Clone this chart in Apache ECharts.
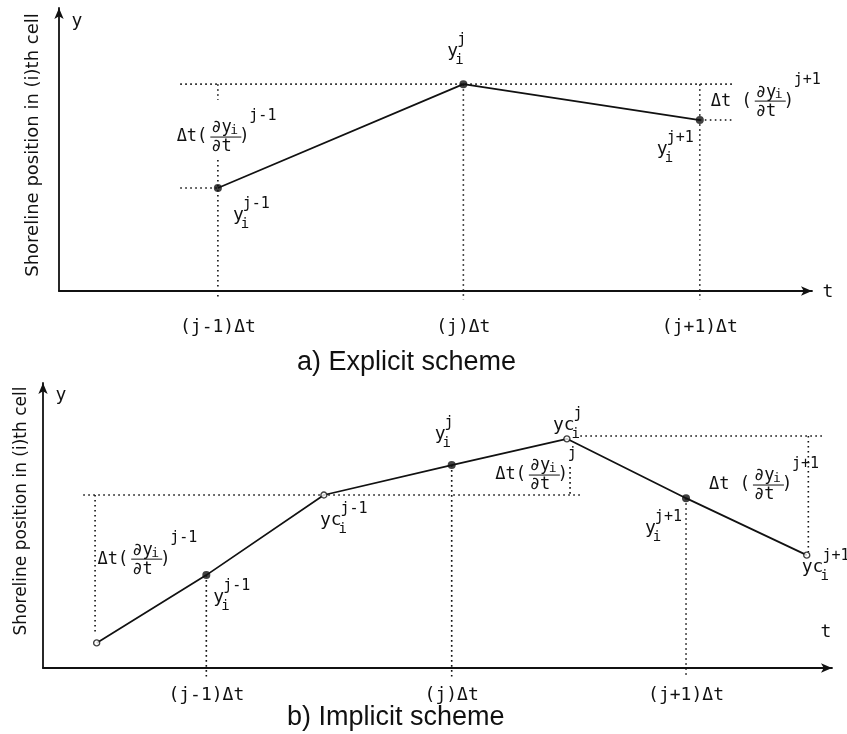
<!DOCTYPE html>
<html><head><meta charset="utf-8">
<script src="https://cdn.jsdelivr.net/npm/echarts@6/dist/echarts.min.js"></script>
<style>html,body{margin:0;padding:0;background:#fff}#c{width:847px;height:734px}</style>
</head><body><div id="c"></div>
<script>
// ---------- data (axis units: 0-100 of each axis length) ----------
const tickLabels = ['(j-1)Δt', '(j)Δt', '(j+1)Δt'];
const supLabels = ['j-1', 'j', 'j+1'];

// a) explicit scheme: shoreline position y_i at the three time levels
const tExp = [21.1, 53.7, 85.1];
const yExp = [36.4, 73.1, 60.4];

// b) implicit scheme: y_i at time levels and corrected positions yc_i
const tImp = [20.7, 51.8, 81.5];
const yImp = [32.6, 71.2, 59.6];
const tImpC = [6.8, 35.6, 66.4, 96.8];
const yImpC = [8.8, 60.7, 80.4, 39.6];

// dotted construction lines [t1, y1, t2, y2]
const guidesExp = [
  [16.1, yExp[1], 89.5, yExp[1]],
  [16.1, yExp[0], tExp[0], yExp[0]],
  [tExp[2], yExp[2], 89.5, yExp[2]],
  [tExp[0], yExp[1], tExp[0], 67.5],
  [tExp[0], 46.3, tExp[0], -3],
  [tExp[1], yExp[1], tExp[1], -3],
  [tExp[2], yExp[1], tExp[2], -3]
];
const guidesImp = [
  [5.1, yImpC[1], 68.1, yImpC[1]],
  [6.6, yImpC[1], 6.6, 12.3],
  [66.8, 70.5, 66.8, yImpC[1]],
  [68.1, 81.4, 99.1, 81.4],
  [97.0, 81.4, 97.0, 40.7],
  [tImp[0], yImp[0], tImp[0], -3],
  [tImp[1], yImp[1], tImp[1], -3],
  [tImp[2], yImp[2], tImp[2], -3]
];

// ---------- build ----------
const INK = '#111111';
const MONO = '"DejaVu Sans Mono", monospace';
const chart = echarts.init(document.getElementById('c'));

function txt(x, y, s, size, align) {
  return { type: 'text', style: { x: x, y: y, text: s, font: size + 'px ' + MONO, fill: INK,
    align: align || 'left', verticalAlign: 'middle', textAlign: align || 'left', textVerticalAlign: 'middle' } };
}
function ptLabel(px, py, d) {
  const L = px + d.dx, M = py + d.dy;
  const w = d.base.length * 0.602 * 18;
  return [txt(L, M, d.base, 18), txt(L + w - 3, M + 9, 'i', 14), txt(L + w - 1, M - 11, d.sup, 15)];
}
function fracLabel(bx, by, d) {
  return [
    txt(bx, by, d.lead, 17, 'right'),
    txt(bx + 4, by - 9, '∂y', 17),
    txt(bx + 23, by - 6, 'i', 13),
    { type: 'line', shape: { x1: bx + 3, y1: by, x2: bx + 34, y2: by }, style: { stroke: INK, lineWidth: 1 } },
    txt(bx + 4, by + 10, '∂t', 17),
    txt(bx + 32, by, ')', 17),
    txt(bx + 42, by - 21, d.sup, 15)
  ];
}
function labelSeries(idx, descs) {
  return {
    type: 'custom', xAxisIndex: idx, yAxisIndex: idx, silent: true, z: 10,
    data: descs.map(d => d.at),
    renderItem: function (params, api) {
      const d = descs[params.dataIndex];
      const p = api.coord(d.at);
      let children;
      if (d.k === 'pt') children = ptLabel(p[0], p[1], d);
      else if (d.k === 'frac') children = fracLabel(p[0], p[1], d);
      else children = [txt(p[0] + (d.dx || 0), p[1] + (d.dy || 0), d.text, d.size || 18, 'center')];
      return { type: 'group', children: children };
    }
  };
}
function guideSeries(idx, segs) {
  return {
    type: 'custom', xAxisIndex: idx, yAxisIndex: idx, silent: true, z: 2,
    encode: { x: [0, 2], y: [1, 3] },
    data: segs,
    renderItem: function (params, api) {
      const a = api.coord([api.value(0), api.value(1)]);
      const b = api.coord([api.value(2), api.value(3)]);
      return { type: 'line', shape: { x1: a[0], y1: a[1], x2: b[0], y2: b[1] },
        style: { stroke: INK, lineWidth: 1.6, lineDash: [1.6, 3.4] } };
    }
  };
}
function axisX(idx) {
  return { gridIndex: idx, type: 'value', min: 0, max: 100,
    axisLine: { show: true, onZero: false, symbol: ['none', 'arrow'], symbolSize: [7, 11],
      lineStyle: { color: INK, width: 1.8 } },
    axisTick: { show: false }, axisLabel: { show: false }, splitLine: { show: false } };
}

const expCurve = tExp.map((t, i) => [t, yExp[i]]);
const impCurve = [];
tImpC.forEach((t, i) => {
  impCurve.push([t, yImpC[i]]);
  if (i < tImp.length) impCurve.push([tImp[i], yImp[i]]);
});

const expLabels = [
  { k: 'pt', at: expCurve[0], base: 'y', sup: supLabels[0], dx: 15, dy: 27 },
  { k: 'pt', at: expCurve[1], base: 'y', sup: supLabels[1], dx: -16, dy: -33 },
  { k: 'pt', at: expCurve[2], base: 'y', sup: supLabels[2], dx: -43, dy: 29 },
  { k: 'frac', at: [19.7, 54.4], lead: 'Δt(', sup: supLabels[0] },
  { k: 'frac', at: [92.0, 67.1], lead: 'Δt (', sup: supLabels[2] },
  { k: 'txt', at: [0, 100], text: 'y', dx: 18, dy: 13 },
  { k: 'txt', at: [100, 0], text: 't', dx: 16, dy: 1 }
].concat(tExp.map((t, i) => ({ k: 'txt', at: [t, 0], text: tickLabels[i], dy: 36 })));

const impLabels = [
  { k: 'pt', at: [tImp[0], yImp[0]], base: 'y', sup: supLabels[0], dx: 7, dy: 22 },
  { k: 'pt', at: [tImp[1], yImp[1]], base: 'y', sup: supLabels[1], dx: -17, dy: -31 },
  { k: 'pt', at: [tImp[2], yImp[2]], base: 'y', sup: supLabels[2], dx: -41, dy: 30 },
  { k: 'pt', at: [tImpC[1], yImpC[1]], base: 'yc', sup: supLabels[0], dx: -4, dy: 25 },
  { k: 'pt', at: [tImpC[2], yImpC[2]], base: 'yc', sup: supLabels[1], dx: -14, dy: -14 },
  { k: 'pt', at: [tImpC[3], yImpC[3]], base: 'yc', sup: supLabels[2], dx: -5, dy: 12 },
  { k: 'frac', at: [10.8, 38.2], lead: 'Δt(', sup: supLabels[0] },
  { k: 'frac', at: [61.2, 67.7], lead: 'Δt(', sup: supLabels[1] },
  { k: 'frac', at: [89.6, 64.2], lead: 'Δt (', sup: supLabels[2] },
  { k: 'txt', at: [0, 100], text: 'y', dx: 18, dy: 12 },
  { k: 'txt', at: [100, 0], text: 't', dx: -6, dy: -36 }
].concat(tImp.map((t, i) => ({ k: 'txt', at: [t, 0], text: tickLabels[i], dy: 27 })));

const option = {
  animation: false,
  backgroundColor: '#fff',
  grid: [
    { left: 59, top: 8, width: 753, height: 283 },
    { left: 43, top: 383, width: 789, height: 285 }
  ],
  xAxis: [axisX(0), axisX(1)],
  yAxis: [axisX(0), axisX(1)],
  graphic: [
    { type: 'text', x: 33.5, y: 145, rotation: Math.PI / 2,
      style: { text: 'Shoreline position in (i)th cell', font: '18px "DejaVu Sans"', fill: INK, align: 'center', verticalAlign: 'middle' } },
    { type: 'text', x: 22, y: 511, rotation: Math.PI / 2,
      style: { text: 'Shoreline position in (i)th cell', font: '17px "DejaVu Sans"', fill: INK, align: 'center', verticalAlign: 'middle' } },
    { type: 'text', x: 297, y: 363,
      style: { text: 'a) Explicit scheme', font: '27px "Liberation Sans"', fill: INK, align: 'left', verticalAlign: 'middle' } },
    { type: 'text', x: 287, y: 718,
      style: { text: 'b) Implicit scheme', font: '27px "Liberation Sans"', fill: INK, align: 'left', verticalAlign: 'middle' } }
  ],
  series: [
    guideSeries(0, guidesExp),
    { type: 'line', xAxisIndex: 0, yAxisIndex: 0, data: expCurve, symbol: 'none', clip: false, silent: true,
      lineStyle: { color: INK, width: 1.7 }, z: 3 },
    { type: 'scatter', xAxisIndex: 0, yAxisIndex: 0, data: expCurve, symbol: 'circle', symbolSize: 8, silent: true,
      itemStyle: { color: INK }, z: 5 },
    labelSeries(0, expLabels),

    guideSeries(1, guidesImp),
    { type: 'line', xAxisIndex: 1, yAxisIndex: 1, data: impCurve, symbol: 'none', clip: false, silent: true,
      lineStyle: { color: INK, width: 1.7 }, z: 3 },
    { type: 'scatter', xAxisIndex: 1, yAxisIndex: 1, data: tImp.map((t, i) => [t, yImp[i]]), symbol: 'circle', symbolSize: 8, silent: true,
      itemStyle: { color: INK }, z: 5 },
    { type: 'scatter', xAxisIndex: 1, yAxisIndex: 1, data: tImpC.map((t, i) => [t, yImpC[i]]), symbol: 'circle', symbolSize: 6, silent: true,
      itemStyle: { color: '#fff', borderColor: INK, borderWidth: 1.4 }, z: 6 },
    labelSeries(1, impLabels)
  ]
};
chart.setOption(option);
</script></body></html>
